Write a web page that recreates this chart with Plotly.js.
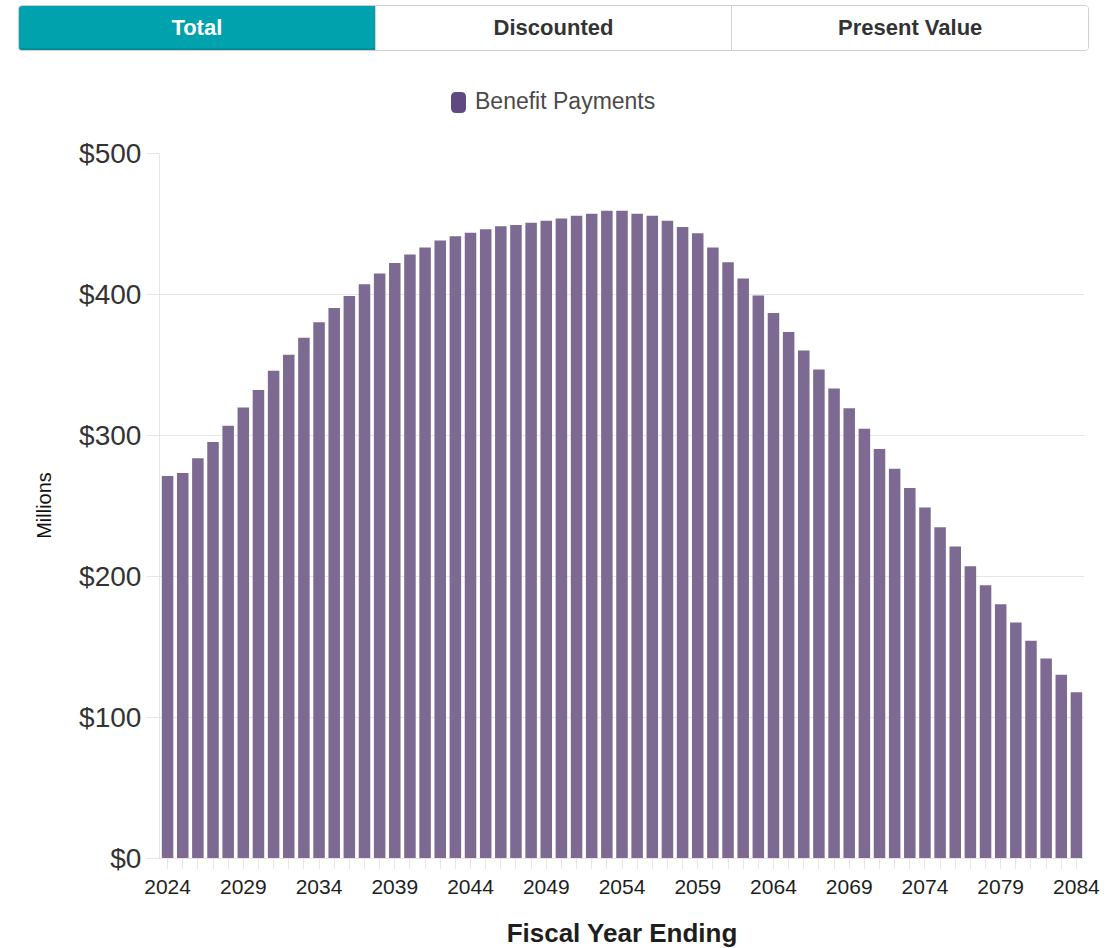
<!DOCTYPE html>
<html>
<head>
<meta charset="utf-8">
<script src="https://cdn.plot.ly/plotly-3.0.1.min.js"></script>
<style>
  html, body { margin: 0; padding: 0; background: #fff; }
  body { width: 1114px; height: 948px; position: relative; overflow: hidden;
         font-family: "Liberation Sans", Arial, sans-serif; }
  #views { position: absolute; left: 18px; top: 5px; width: 1071px; height: 46px;
           display: flex; border: 1px solid #cfcfcf; border-radius: 4px; box-sizing: border-box;
           overflow: hidden; z-index: 2; }
  #views button { flex: 1 1 0; border: none; border-left: 1px solid #d4d4d4; background: #fff;
                  font-family: "Liberation Sans", Arial, sans-serif; font-weight: bold;
                  font-size: 22px; color: #333; cursor: pointer; padding: 0; }
  #views button:first-child { border-left: none; }
  #views button.active { background: #00a3ad; color: #fff; box-shadow: inset 0 -2px 0 #008f98; }
  #chart { position: absolute; left: 0; top: 0; width: 1114px; height: 948px; }
</style>
</head>
<body>
<div id="chart"></div>
<div id="views">
  <button class="active">Total</button>
  <button>Discounted</button>
  <button>Present Value</button>
</div>
<script>
// Fiscal years shown on the x axis
const years = [];
for (let y = 2024; y <= 2084; y++) years.push(y);

// Projected benefit payments, $ millions, one value per fiscal year
const benefitPayments = [
  271, 273, 283.5, 295, 306.5, 319.5, 332, 345.5, 357, 369,
  380, 390, 398.5, 407, 414.5, 422, 428, 433, 438, 441,
  443.5, 446, 448, 449, 450.5, 452, 453.5, 455.5, 457, 459,
  459, 457, 455.5, 452, 447.5, 443, 433, 422.5, 411, 399,
  386.5, 373, 360, 346.5, 333, 319, 304.5, 290, 276, 262.5,
  248.5, 234.5, 221, 207, 193.5, 180, 167, 154, 141.5, 130,
  117.5
];

const seriesName = 'Benefit Payments';
const xTitle = 'Fiscal Year Ending';
const yTitle = 'Millions';

const barColor = '#7c6a93';
const swatchColor = '#5e4a80';
const lineGrey = '#e6e6e6';
const FONT = '"Liberation Sans", Arial, sans-serif';

const trace = {
  type: 'bar',
  name: seriesName,
  x: years,
  y: benefitPayments,
  marker: { color: barColor },
  hovertemplate: '%{x}: $%{y:.1f}M<extra></extra>',
  showlegend: false
};

// rounded swatch drawn in pixels around a paper anchor
function roundedRect(w, h, r) {
  const x0 = -w / 2, x1 = w / 2, y0 = -h / 2, y1 = h / 2;
  return `M${x0 + r},${y0} L${x1 - r},${y0} Q${x1},${y0} ${x1},${y0 + r} ` +
         `L${x1},${y1 - r} Q${x1},${y1} ${x1 - r},${y1} L${x0 + r},${y1} ` +
         `Q${x0},${y1} ${x0},${y1 - r} L${x0},${y0 + r} Q${x0},${y0} ${x0 + r},${y0} Z`;
}

const layout = {
  width: 1114,
  height: 948,
  margin: { l: 160, r: 30, t: 153, b: 90 },
  paper_bgcolor: '#fff',
  plot_bgcolor: '#fff',
  font: { family: FONT, color: '#333' },
  bargap: 0.24,
  showlegend: false,
  xaxis: {
    type: 'linear',
    range: [2023.5, 2084.5],
    tickmode: 'linear',
    tick0: 2024,
    dtick: 5,
    ticks: 'outside',
    ticklen: 10,
    tickcolor: lineGrey,
    tickfont: { size: 21, color: '#1e1e1e', family: FONT },
    minor: { tick0: 2024, dtick: 1, ticks: 'outside', ticklen: 10, tickcolor: lineGrey, showgrid: false },
    showgrid: false,
    zeroline: false,
    showline: true,
    linecolor: lineGrey,
    title: { text: xTitle, standoff: 30, font: { size: 26, color: '#1e1e1e', family: FONT, weight: 'bold' } }
  },
  yaxis: {
    range: [0, 500],
    tickmode: 'linear',
    tick0: 0,
    dtick: 100,
    tickprefix: '$',
    ticks: 'outside',
    ticklen: 12,
    tickcolor: lineGrey,
    tickfont: { size: 28, color: '#333', family: FONT },
    gridcolor: lineGrey,
    zeroline: false,
    showline: true,
    linecolor: lineGrey,
    title: { text: yTitle, standoff: 22, font: { size: 20, color: '#111', family: FONT } }
  },
  shapes: [{
    type: 'path',
    xref: 'paper', yref: 'paper',
    xsizemode: 'pixel', ysizemode: 'pixel',
    xanchor: (458.5 - 160) / 924,
    yanchor: (858 - 102.5) / 705,
    path: roundedRect(15, 21, 5),
    fillcolor: swatchColor,
    line: { width: 0 }
  }],
  annotations: [{
    xref: 'paper', yref: 'paper',
    x: (473 - 160) / 924,
    y: (858 - 101) / 705,
    xanchor: 'left', yanchor: 'middle',
    showarrow: false,
    text: seriesName,
    font: { size: 23, color: '#4a4a4a', family: FONT }
  }]
};

Plotly.newPlot('chart', [trace], layout, { displayModeBar: false, responsive: false });
</script>
</body>
</html>
